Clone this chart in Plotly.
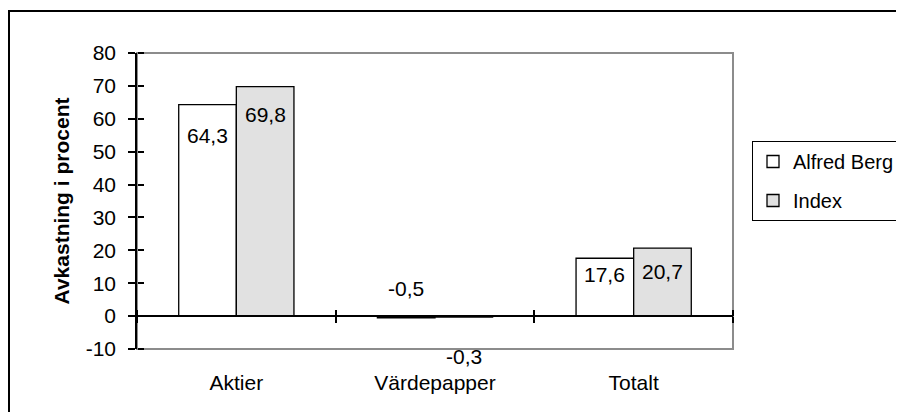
import plotly.graph_objects as go

# ---- data ----
categories = ["Aktier", "Värdepapper", "Totalt"]
alfred_berg = [64.3, -0.5, 17.6]
index_vals = [69.8, -0.3, 20.7]
series_names = ["Alfred Berg", "Index"]
y_ticks = [-10, 0, 10, 20, 30, 40, 50, 60, 70, 80]
y_title = "Avkastning i procent"

# ---- style ----
W, H = 904, 412
OFF = 8  # page body margin of the browser
L, T = 137 - OFF, 53 - OFF
PW, PH = 596, 296
R = W - L - PW
B = H - T - PH
FONT = "Liberation Sans, Arial, sans-serif"
FS = 21
bargap = 0.42
ymin, ymax = -10, 80
# label offsets (px) relative to bar end, per series
ab_yshift = [-31, 29, -16]
ix_yshift = [-28, -39, -23]

cat_w = PW / len(categories)
bar_half = cat_w * (1 - bargap) / 4
zero_frac = (0 - ymin) / (ymax - ymin)


def px_x(x):  # reference page x -> paper
    return (x - OFF - L) / PW


def px_y(y):  # reference page y -> paper
    return 1 - (y - OFF - T) / PH


fig = go.Figure()
fig.add_trace(go.Bar(name=series_names[0], x=categories, y=alfred_berg,
                     marker=dict(color="white", line=dict(color="black", width=1.3)),
                     legendgroup="a"))
fig.add_trace(go.Bar(name=series_names[1], x=categories, y=index_vals,
                     marker=dict(color="#E1E1E1", line=dict(color="black", width=1.3)),
                     legendgroup="b"))
for xa, ya in [("x2", "y"), ("x3", "y"), ("x", "y2")]:
    fig.add_trace(go.Scatter(x=categories, y=[None] * len(categories), xaxis=xa, yaxis=ya,
                             showlegend=False, hoverinfo="skip", mode="markers"))

ann = []
for i, c in enumerate(categories):
    for vals, shifts, sgn in [(alfred_berg, ab_yshift, -1), (index_vals, ix_yshift, 1)]:
        ann.append(dict(x=c, y=vals[i], xref="x", yref="y",
                        text=f"{vals[i]:.1f}".replace(".", ","),
                        showarrow=False, xanchor="center", yanchor="middle",
                        xshift=sgn * bar_half, yshift=shifts[i],
                        font=dict(family=FONT, size=FS, color="black")))

cat_axis = dict(type="category", categoryorder="array", categoryarray=categories,
                range=[-0.5, len(categories) - 0.5])

fig.update_layout(
    width=W, height=H,
    margin=dict(l=L, r=R, t=T, b=B, pad=0, autoexpand=False),
    paper_bgcolor="white", plot_bgcolor="white",
    font=dict(family=FONT, size=FS, color="black"),
    barmode="group", bargap=bargap, bargroupgap=0,
    showlegend=True,
    legend=dict(x=px_x(752), xanchor="left", y=px_y(141), yanchor="top",
                bordercolor="black", borderwidth=1, font=dict(size=20),
                tracegroupgap=10, itemwidth=30, bgcolor="white"),
    xaxis=dict(**cat_axis, showline=False, showgrid=False, zeroline=False, ticks="",
               tickfont=dict(size=FS), ticklabelstandoff=19),
    xaxis2=dict(**cat_axis, overlaying="x", anchor="free", position=zero_frac, side="bottom",
                tickson="boundaries", ticks="outside", ticklen=6, tickwidth=1.5, tickcolor="black",
                showticklabels=False, showline=True, linecolor="black", linewidth=1.5,
                showgrid=False, zeroline=False),
    xaxis3=dict(**cat_axis, overlaying="x", anchor="free", position=zero_frac, side="top",
                tickson="boundaries", ticks="outside", ticklen=6, tickwidth=1.5, tickcolor="black",
                showticklabels=False, showline=False, showgrid=False, zeroline=False),
    yaxis=dict(range=[ymin, ymax], tickmode="array", tickvals=y_ticks,
               ticktext=[str(v) for v in y_ticks],
               showline=True, linecolor="black", linewidth=1.5,
               ticks="outside", ticklen=7, tickwidth=1.5, tickcolor="black",
               showgrid=False, zeroline=False, tickfont=dict(size=FS), ticklabelstandoff=8,
               title=dict(text=f"<b>{y_title}</b>", font=dict(size=FS), standoff=10)),
    yaxis2=dict(range=[ymin, ymax], overlaying="y", anchor="free", position=0, side="right",
                tickmode="array", tickvals=y_ticks, ticks="outside", ticklen=6, tickwidth=1.5,
                tickcolor="black", showticklabels=False, showline=False, showgrid=False,
                zeroline=False),
    annotations=ann,
    shapes=[
        dict(type="rect", xref="x domain", yref="y domain", x0=0, x1=1, y0=0, y1=1,
             line=dict(color="#8C8C8C", width=2), layer="below"),
        dict(type="rect", xref="paper", yref="paper",
             x0=px_x(9), x1=px_x(W + 30), y0=px_y(H + 30), y1=px_y(11),
             line=dict(color="black", width=2), layer="below"),
    ],
)

fig.write_html("out.html")
